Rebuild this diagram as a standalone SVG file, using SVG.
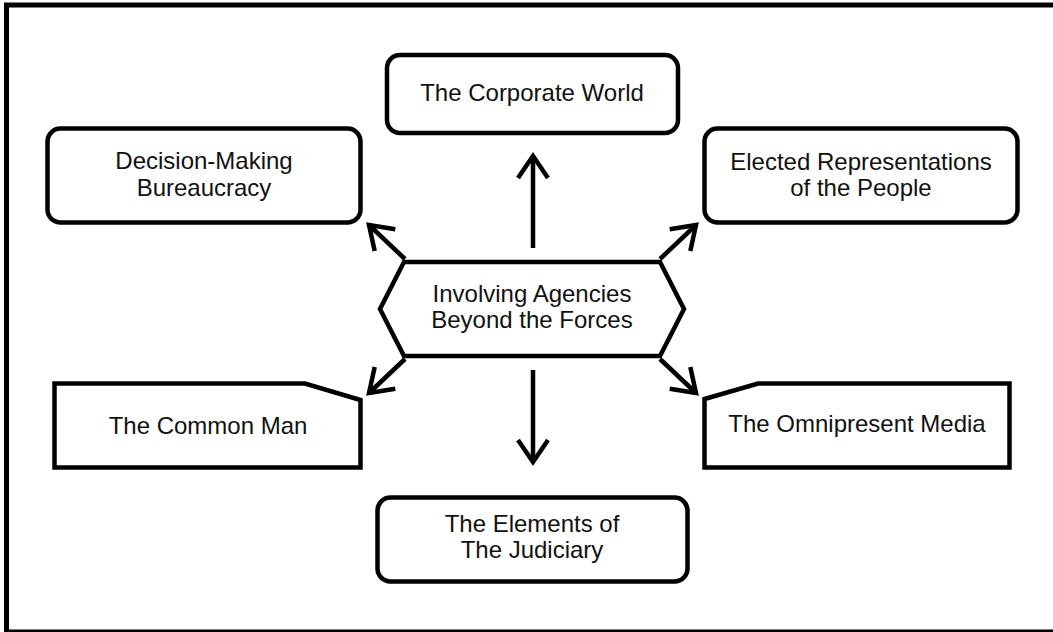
<svg xmlns="http://www.w3.org/2000/svg" width="1053" height="632" viewBox="0 0 1053 632">
  <style>
    .box { fill: #fff; stroke: #000; stroke-width: 4.5; stroke-linejoin: miter; }
    .lbl { font-family: "Liberation Sans", Arial, sans-serif; font-size: 24px; fill: #111; text-anchor: middle; }
    .conn { stroke: #000; stroke-width: 4.5; fill: none; }
  </style>
  <defs>
    <marker id="ah" markerUnits="userSpaceOnUse" orient="auto" refX="0" refY="0" markerWidth="60" markerHeight="60" viewBox="-30 -30 60 60" overflow="visible">
      <path d="M-22,-15 L0,0 L-22,15" fill="none" stroke="#000" stroke-width="4.5" stroke-linejoin="miter"/>
    </marker>
  </defs>
  <rect x="0" y="0" width="1053" height="632" fill="#fff"/>
  <rect x="6.5" y="5" width="1070" height="627" fill="none" stroke="#000" stroke-width="5"/>

  <g id="connectors">
    <line class="conn" x1="533" y1="248" x2="533" y2="156" marker-end="url(#ah)"/>
    <line class="conn" x1="533" y1="370" x2="533" y2="462" marker-end="url(#ah)"/>
    <line class="conn" x1="405" y1="259" x2="369" y2="225" marker-end="url(#ah)"/>
    <line class="conn" x1="660" y1="259" x2="696" y2="225" marker-end="url(#ah)"/>
    <line class="conn" x1="405" y1="359" x2="369" y2="393" marker-end="url(#ah)"/>
    <line class="conn" x1="660" y1="359" x2="696" y2="393" marker-end="url(#ah)"/>
  </g>

  <g id="center">
    <polygon class="box" points="404,262 660,262 684,309 660,356 404,356 380,309" stroke-width="5"/>
    <text class="lbl" x="532" y="302">Involving Agencies</text>
    <text class="lbl" x="532" y="328">Beyond the Forces</text>
  </g>

  <g id="corporate">
    <rect class="box" x="387" y="55" width="291" height="78" rx="13"/>
    <text class="lbl" x="532" y="101">The Corporate World</text>
  </g>

  <g id="bureaucracy">
    <rect class="box" x="47.5" y="128.5" width="313" height="94" rx="13"/>
    <text class="lbl" x="204" y="169">Decision-Making</text>
    <text class="lbl" x="204" y="196">Bureaucracy</text>
  </g>

  <g id="elected">
    <rect class="box" x="704.5" y="128.5" width="313" height="94" rx="13"/>
    <text class="lbl" x="861" y="170">Elected Representations</text>
    <text class="lbl" x="861" y="196">of the People</text>
  </g>

  <g id="commonman">
    <polygon class="box" points="54.5,383.5 305,383.5 360.5,400 360.5,467.5 54.5,467.5"/>
    <text class="lbl" x="208" y="434">The Common Man</text>
  </g>

  <g id="media">
    <polygon class="box" points="758,383.5 1009.5,383.5 1009.5,467.5 704.5,467.5 704.5,399"/>
    <text class="lbl" x="857" y="432">The Omnipresent Media</text>
  </g>

  <g id="judiciary">
    <rect class="box" x="377.5" y="497.5" width="310" height="84" rx="13"/>
    <text class="lbl" x="532" y="532">The Elements of</text>
    <text class="lbl" x="532" y="558">The Judiciary</text>
  </g>
</svg>
